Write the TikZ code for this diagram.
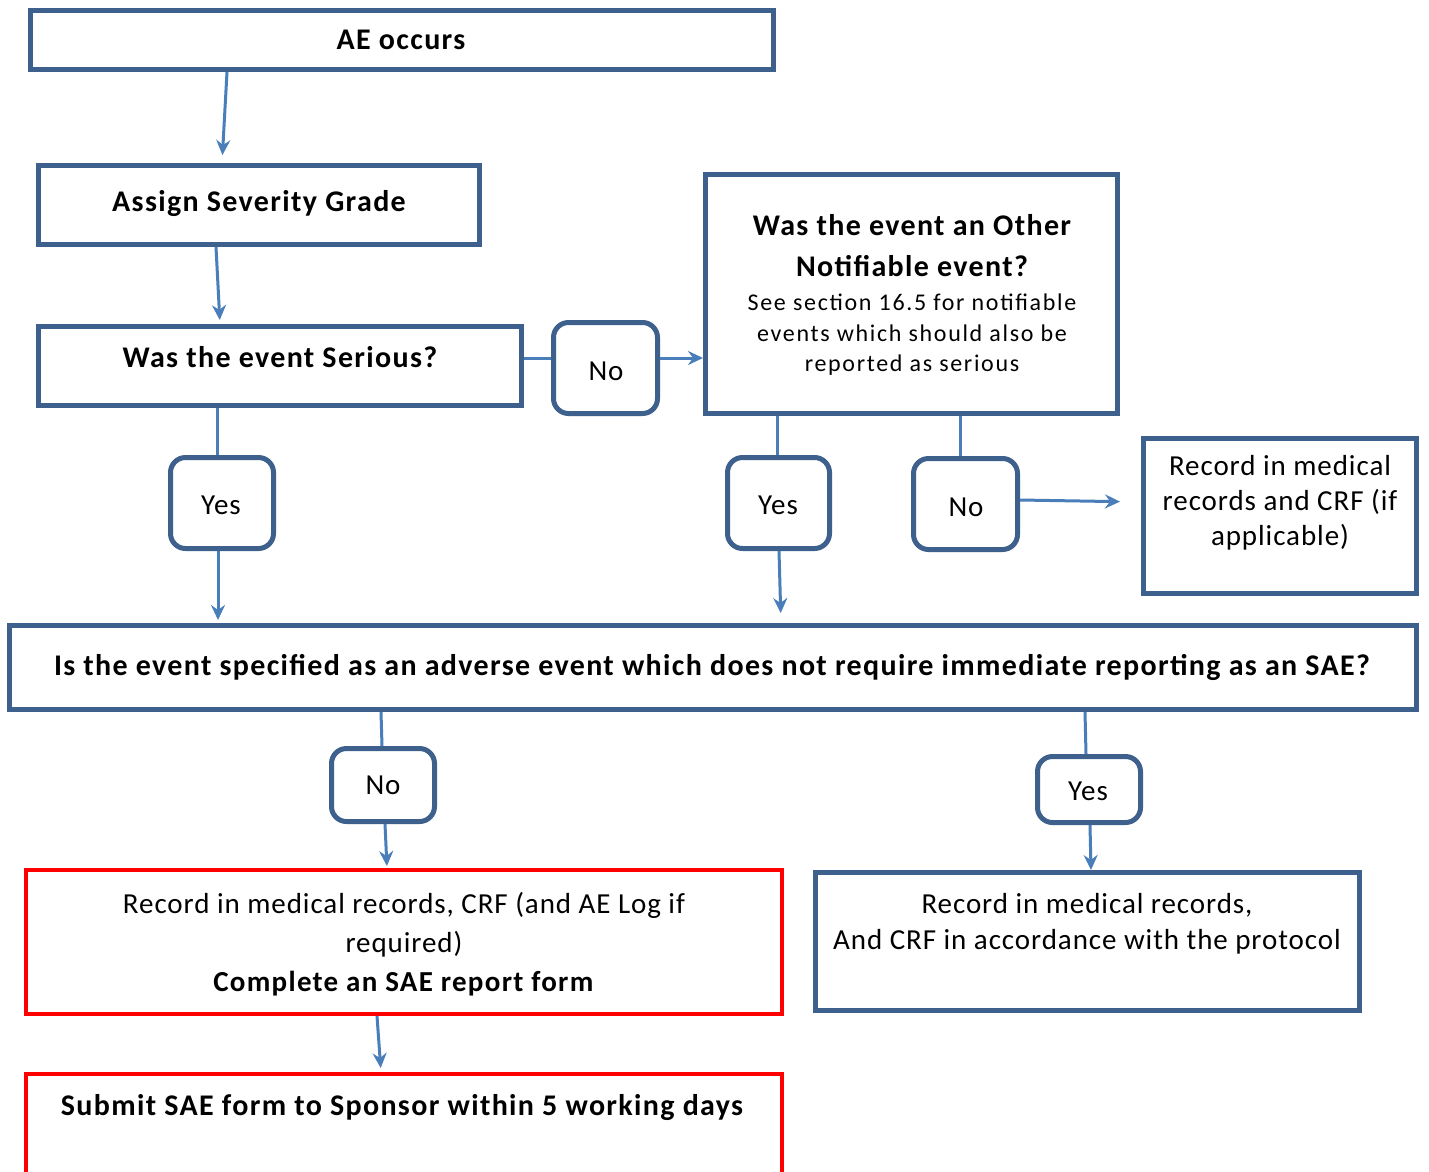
\documentclass[tikz,border=0pt]{standalone}
\usepackage{fontspec}
\setmainfont{Carlito}[LetterSpace=3.2, BoldFeatures={LetterSpace=4.5}]
\newfontfamily\spacedfont{Carlito}[LetterSpace=7]
\usetikzlibrary{fit,arrows.meta}
\definecolor{boxblue}{RGB}{62,96,140}
\definecolor{arrblue}{RGB}{74,126,187}
\definecolor{boxred}{RGB}{255,0,0}
\tikzset{
  box/.style={draw=boxblue, line width=5pt, inner sep=0pt, fill=white},
  rbox/.style={box, rounded corners=15pt},
  redbox/.style={draw=boxred, line width=4pt, inner sep=0pt, fill=white},
  txt/.style={align=center, inner sep=0pt, font=\fontsize{29}{38}\selectfont},
  btxt/.style={txt, font=\fontsize{30}{38}\selectfont\bfseries},
  conn/.style={draw=arrblue, line width=3pt},
  arr/.style={conn, -{Stealth[length=15pt,width=14pt,inset=5pt]}},
}
\begin{document}
\begin{tikzpicture}[x=1pt,y=-1pt]
\clip (0,0) rectangle (1429,1171);
\fill[white] (0,0) rectangle (1429,1171);
% boxes
\node[box, fit={(30.5,10.5) (773.5,69.5)}] (ae) {};
\node[box, fit={(38.5,165.5) (479.5,244.5)}] (assign) {};
\node[box, fit={(38.5,326.5) (521.5,405.5)}] (serious) {};
\node[rbox, fit={(553.5,322.5) (657.5,413.5)}] (no1) {};
\node[box, fit={(705.5,174.5) (1117.5,413.5)}] (other) {};
\node[rbox, fit={(170.5,457.5) (273.5,548.5)}] (yes1) {};
\node[rbox, fit={(727.5,457.5) (829.5,548.5)}] (yes2) {};
\node[rbox, fit={(913.5,458.5) (1017.5,549.5)}] (no2) {};
\node[box, fit={(1143.5,438.5) (1416.5,593.5)}] (rec) {};
\node[box, fit={(9.5,625.5) (1416.5,709.5)}] (big) {};
\node[rbox, fit={(331.5,748.5) (434.5,821.5)}] (no3) {};
\node[rbox, fit={(1037.5,756.5) (1140.5,822.5)}] (yes3) {};
\node[redbox, fit={(26,870) (782,1014)}] (red1) {};
\node[box, fit={(815.5,872.5) (1359.5,1010.5)}] (rec2) {};
\node[redbox, fit={(26,1074) (782,1210)}] (red2) {};
% texts
\node[btxt] (aet) at (401,40) {AE occurs};
\node[btxt] (assignt) at (259,204) {Assign Severity Grade};
\node[btxt] (serioust) at (280,357) {Was the event Serious?};
\node[txt] (no1t) at (606,371) {No};
\node[btxt, font=\fontsize{30}{41}\selectfont\bfseries] (othert) at (912,246) {Was the event an Other\\Notifiable event?};
\node[txt, font=\fontsize{24}{30.5}\selectfont\spacedfont] (othert2) at (912,335) {See section 16.5 for notifiable\\events which should also be\\reported as serious};
\node[txt] (yes1t) at (221,505) {Yes};
\node[txt] (yes2t) at (778,505) {Yes};
\node[txt] (no2t) at (966,507) {No};
\node[txt, font=\fontsize{29}{35}\selectfont] (rect) at (1280,503) {Record in medical\\records and CRF (if\\applicable)};
\node[btxt] (bigt) at (712,667) {Is the event specified as an adverse event which does not require immediate reporting as an SAE?};
\node[txt] (no3t) at (383,785) {No};
\node[txt] (yes3t) at (1088,791) {Yes};
\node[txt, font=\fontsize{29}{39}\selectfont] (red1t) at (404,944) {Record in medical records, CRF (and AE Log if\\required)\\\textbf{Complete an SAE report form}};
\node[txt, font=\fontsize{29}{36}\selectfont] (rec2t) at (1087,924) {Record in medical records,\\And CRF in accordance with the protocol};
\node[btxt] (red2t) at (402,1107) {Submit SAE form to Sponsor within 5 working days};
% connectors
\draw[arr, shorten >=8pt] (ae.south -| 227,0) -- (assign.north -| 222,0);
\draw[arr, shorten >=4pt] (assign.south -| 216,0) -- (serious.north -| 220,0);
\draw[conn] (serious.east |- 0,358) -- (no1.west |- 0,358);
\draw[arr] (no1.east |- 0,358) -- (other.west |- 0,358);
\draw[conn] (serious.south -| 217,0) -- (yes1.north -| 217,0);
\draw[arr, shorten >=3pt] (yes1.south -| 218,0) -- (big.north -| 218,0);
\draw[conn] (other.south -| 777,0) -- (yes2.north -| 777,0);
\draw[arr, shorten >=10pt] (yes2.south -| 779,0) -- (big.north -| 781,0);
\draw[conn] (other.south -| 960,0) -- (no2.north -| 960,0);
\draw[arr, shorten >=21pt] (no2.east |- 0,500) -- (rec.west |- 0,502);
\draw[conn] (big.south -| 381,0) -- (no3.north -| 382,0);
\draw[arr, shorten >=2pt] (no3.south -| 385,0) -- (red1.north -| 387,0);
\draw[conn] (big.south -| 1085,0) -- (yes3.north -| 1086,0);
\draw[arr] (yes3.south -| 1090,0) -- (rec2.north -| 1091,0);
\draw[arr, shorten >=4pt] (red1.south -| 377,0) -- (red2.north -| 381,0);
\end{tikzpicture}
\end{document}
